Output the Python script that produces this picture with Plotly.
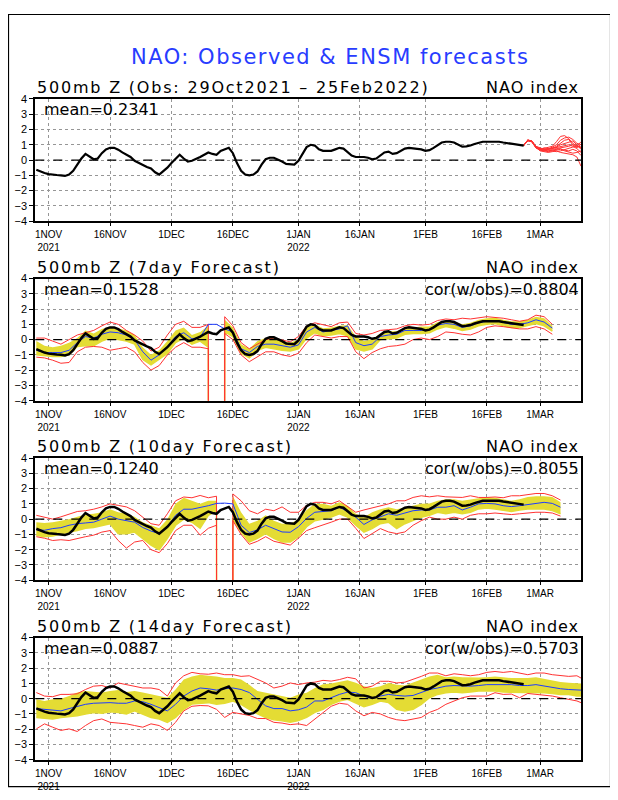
import numpy as np
import pandas as pd
import plotly.graph_objects as go

U = -999.0  # undefined value in the forecast files

START = pd.Timestamp("2021-10-29")

# observed daily NAO index, 29Oct2021 - 25Feb2022
obs_nao = [
    -0.63, -0.75, -0.85, -0.92, -0.97, -0.98, -1.0, -1.04, -0.95, -0.7,
    -0.3, 0.1, 0.4, 0.25, 0.05, 0.1, 0.45, 0.7, 0.8, 0.8,
    0.68, 0.5, 0.35, 0.2, -0.05, -0.2, -0.35, -0.45, -0.55, -0.8,
    -0.95, -0.75, -0.5, -0.2, 0.05, 0.35, 0.1, -0.1, -0.05, 0.05,
    0.2, 0.35, 0.5, 0.4, 0.35, 0.6, 0.7, 0.8, 0.45, -0.2,
    -0.7, -0.95, -1.0, -0.95, -0.75, -0.3, 0.05, 0.15, 0.15, 0.05,
    -0.1, -0.25, -0.3, -0.3, -0.05, 0.45, 0.85, 1.0, 0.95, 0.7,
    0.6, 0.6, 0.6, 0.7, 0.8, 0.75, 0.55, 0.3, 0.2, 0.2,
    0.2, 0.15, 0.05, 0.1, 0.3, 0.5, 0.55, 0.4, 0.45, 0.6,
    0.75, 0.8, 0.75, 0.75, 0.7, 0.6, 0.65, 0.8, 0.95, 1.15,
    1.2, 1.2, 1.15, 1.0, 0.88, 0.9, 0.95, 1.05, 1.15, 1.2,
    1.2, 1.2, 1.2, 1.2, 1.15, 1.1, 1.05, 1.0, 1.0, 0.95,
]

# ensemble members from 25Feb2022 (daily, 15 days)
ens_members = [
    [0.95, 1.3, 1.25, 0.85, 0.7, 0.75, 0.8, 0.9, 1.2, 1.55, 1.6, 1.4, 1.1, 0.9, 0.8],
    [0.95, 1.3, 1.2, 0.8, 0.65, 0.6, 0.7, 0.85, 1.0, 1.3, 1.45, 1.5, 1.35, 1.1, 1.0],
    [0.95, 1.28, 1.22, 0.9, 0.75, 0.7, 0.65, 0.6, 0.55, 0.6, 0.7, 0.8, 0.85, 0.9, 1.2],
    [0.95, 1.32, 1.25, 0.85, 0.6, 0.55, 0.5, 0.55, 0.6, 0.5, 0.45, 0.4, 0.35, 0.2, -0.4],
    [0.95, 1.3, 1.2, 0.8, 0.7, 0.8, 0.75, 0.7, 0.75, 0.8, 0.85, 0.9, 1.0, 0.95, 0.85],
    [0.95, 1.25, 1.2, 0.85, 0.7, 0.65, 0.6, 0.65, 0.7, 0.75, 0.6, 0.5, 0.45, 0.5, 0.6],
    [0.95, 1.3, 1.25, 0.9, 0.8, 0.7, 0.75, 0.8, 0.85, 1.0, 1.1, 1.2, 1.25, 1.0, 0.7],
    [0.95, 1.3, 1.22, 0.8, 0.65, 0.6, 0.55, 0.6, 0.65, 0.7, 0.65, 0.6, 0.7, 0.6, 0.3],
    [0.95, 1.28, 1.2, 0.85, 0.75, 0.7, 0.7, 0.75, 0.8, 0.9, 0.95, 1.0, 0.9, 0.75, 0.5],
    [0.95, 1.3, 1.25, 0.85, 0.7, 0.65, 0.7, 0.75, 0.9, 1.1, 1.3, 1.35, 1.0, 0.8, 1.05],
]

# 7day forecast, every 2nd verifying day from 29Oct2021
f7_mean = [
    -0.7, -0.85, -0.85, -0.85, -0.7, -0.2, 0.2, 0.1, 0.35, 0.5,
    0.45, 0.3, 0.0, -0.8, -1.35, -1.0, -0.45, 0.2, 0.45, 0.05,
    0.15, 1.0, 1.0, 0.7, 0.5, -0.6, -0.85, -0.45, -0.3, -0.3,
    -0.4, -0.5, -0.35, 0.5, 0.8, 0.5, 0.6, 0.7, 0.9, -0.2,
    -0.4, -0.3, 0.2, 0.3, 0.35, 0.6, 0.6, 0.6, 0.65, 0.95,
    1.05, 1.0, 0.8, 0.9, 1.1, 1.2, 1.25, 1.1, 1.0, 1.0,
    1.1, 1.3, 1.15, 0.75,
]
f7_band_hi = [
    -0.1, -0.4, -0.5, -0.4, -0.2, 0.1, 0.6, 0.4, 0.7, 0.85,
    0.75, 0.6, 0.3, -0.5, -1.0, -0.7, -0.1, 0.6, 0.8, 0.3,
    0.5, 0.9, U, 1.3, 0.8, -0.3, -0.6, -0.1, 0.1, 0.1,
    -0.1, -0.2, 0.0, 0.8, 1.0, 0.75, 0.8, 0.9, 0.95, 0.2,
    -0.1, 0.0, 0.4, 0.55, 0.55, 0.8, 0.8, 0.85, 0.85, 1.15,
    1.25, 1.2, 1.0, 1.1, 1.3, 1.4, 1.45, 1.3, 1.2, 1.2,
    1.3, 1.5, 1.4, 0.9,
]
f7_band_lo = [
    -1.0, -1.05, -1.1, -1.1, -1.0, -0.45, -0.4, -0.4, -0.1, 0.1,
    0.0, -0.1, -0.3, -1.3, -1.65, -1.3, -0.9, -0.2, 0.1, -0.3,
    -0.1, -0.5, U, 0.5, 0.2, -0.9, -1.2, -0.7, -0.5, -0.6,
    -0.7, -0.75, -0.6, 0.1, 0.45, 0.25, 0.3, 0.4, 0.25, -0.6,
    -0.75, -0.6, 0.0, 0.05, 0.1, 0.35, 0.4, 0.4, 0.45, 0.7,
    0.85, 0.75, 0.6, 0.7, 0.9, 1.0, 1.05, 0.9, 0.8, 0.8,
    0.9, 1.05, 0.9, 0.55,
]
f7_max = [
    0.1, 0.1, -0.1, -0.3, 0.0, 0.3, 0.45, 0.6, 0.9, 1.15,
    1.0, 0.6, 0.3, -0.1, -0.75, -0.5, 0.3, 1.0, 1.2, 0.8,
    0.8, 1.0, U, 1.5, 0.9, -0.2, -0.6, -0.3, 0.0, 0.1,
    -0.05, -0.15, 0.2, 0.9, 1.1, 0.95, 0.85, 1.1, 1.15, 0.4,
    0.3, 0.4, 0.6, 0.65, 0.7, 0.9, 1.0, 0.95, 1.0, 1.25,
    1.35, 1.3, 1.4, 1.35, 1.45, 1.5, 1.45, 1.4, 1.3, 1.2,
    1.3, 1.6, 1.5, 1.0,
]
f7_min = [
    -1.15, -1.2, -1.35, -1.55, -1.5, -0.8, -0.5, -0.45, -0.5, -0.7,
    -0.6, -0.5, -0.8, -1.5, -2.0, -1.7, -1.0, -0.5, -0.2, -0.5,
    -0.5, -0.6, U, 0.4, 0.0, -1.0, -1.45, -1.1, -0.8, -0.8,
    -1.0, -1.1, -0.9, -0.2, 0.3, 0.2, 0.1, 0.2, 0.2, -0.8,
    -1.25, -0.85, -0.6, -0.45, -0.4, -0.3, 0.0, 0.1, 0.0, 0.2,
    0.5, 0.45, 0.35, 0.3, 0.5, 0.8, 0.9, 0.85, 0.75, 0.7,
    0.7, 0.85, 0.7, 0.35,
]

# 10day forecast
f10_mean = [
    -0.7, -0.73, -0.62, -0.56, -0.4, -0.3, -0.25, -0.2, 0.0, 0.2,
    0.0, -0.1, -0.2, -0.55, -0.78, -0.95, -0.5, 0.25, 0.65, 0.65,
    0.75, 0.88, 1.03, 1.05, 1.0, -0.4, -0.88, -0.7, -0.4, -0.62,
    -0.84, -0.86, -0.5, 0.05, 0.45, 0.5, 0.55, 0.78, 0.5, 0.13,
    -0.35, -0.05, 0.13, 0.35, 0.25, 0.4, 0.55, 0.6, 0.6, 0.78,
    0.78, 0.88, 0.6, 0.78, 1.0, 1.03, 1.0, 0.88, 0.82, 0.88,
    0.95, 1.0, 1.1, 1.03, 0.78,
]
f10_band_hi = [
    -0.2, -0.25, -0.2, -0.1, 0.0, 0.15, 0.3, 0.35, 0.45, 0.65,
    0.45, 0.35, 0.15, -0.2, -0.4, -0.6, 0.0, 1.0, 1.4, 1.2,
    1.0, 1.2, 1.2, U, 1.5, 0.45, -0.3, -0.1, 0.25, -0.1,
    -0.3, -0.3, 0.0, 0.6, 1.0, 1.0, 0.88, 1.1, 0.88, 0.35,
    0.13, 0.45, 0.65, 0.78, 0.65, 0.78, 0.88, 1.0, 1.03, 1.2,
    1.3, 1.3, 1.2, 1.3, 1.4, 1.45, 1.4, 1.3, 1.2, 1.3,
    1.45, 1.5, 1.5, 1.45, 1.1,
]
f10_band_lo = [
    -1.05, -1.15, -1.1, -0.95, -0.85, -0.75, -0.6, -0.55, -0.4, -0.3,
    -0.95, -0.95, -0.85, -1.25, -1.7, -2.0, -1.25, -0.4, 0.0, -0.2,
    -0.6, 0.25, 0.55, U, 0.0, -0.85, -1.5, -1.25, -0.95, -1.25,
    -1.5, -1.5, -1.15, -0.5, -0.1, 0.0, 0.13, 0.35, 0.13, -0.4,
    -0.85, -0.62, -0.3, -0.2, -0.62, -0.3, -0.1, 0.13, 0.25, 0.45,
    0.35, 0.45, 0.35, 0.45, 0.67, 0.73, 0.67, 0.56, 0.5, 0.6,
    0.67, 0.67, 0.67, 0.56, 0.35,
]
f10_max = [
    0.25, 0.15, 0.0, 0.15, 0.35, 0.5, 0.55, 0.65, 0.8, 1.0,
    0.9, 0.8, 0.55, 0.15, -0.3, -0.4, 0.35, 1.2, 1.45, 1.4,
    1.55, 1.4, 1.5, U, 1.65, 1.2, 0.55, 0.35, 0.65, 0.55,
    0.8, 0.45, 0.45, 0.9, 1.1, 1.1, 1.0, 1.2, 0.82, 0.45,
    0.6, 0.73, 0.88, 1.0, 1.2, 1.2, 1.42, 1.53, 1.46, 1.53,
    1.46, 1.46, 1.42, 1.53, 1.42, 1.42, 1.45, 1.4, 1.53, 1.53,
    1.63, 1.68, 1.68, 1.53, 1.25,
]
f10_min = [
    -1.15, -1.25, -1.4, -1.35, -1.4, -1.25, -1.15, -1.05, -0.85, -0.75,
    -1.4, -1.9, -1.5, -1.4, -2.0, -2.2, -1.6, -0.75, -0.4, -0.4,
    -1.05, -0.6, -0.4, U, -0.1, -1.0, -1.65, -1.45, -1.15, -1.45,
    -1.6, -1.7, -1.25, -0.75, -0.56, -0.4, -0.2, 0.0, 0.0, -0.6,
    -1.27, -0.95, -0.62, -0.84, -0.95, -0.84, -0.4, -0.1, 0.13, 0.0,
    0.0, 0.13, 0.0, 0.25, 0.35, 0.35, 0.4, 0.35, 0.3, 0.35,
    0.4, 0.45, 0.45, 0.4, 0.2,
]

# 14day forecast
f14_mean = [
    -0.65, -0.7, -0.73, -0.8, -0.65, -0.52, -0.37, -0.3, -0.26, -0.26,
    -0.3, -0.3, -0.15, -0.2, -0.37, -0.58, -0.8, -0.37, 0.17, 0.5,
    0.7, 0.65, 0.56, 0.65, 0.7, 0.6, 0.4, -0.04, -0.47, -0.65,
    -0.65, -0.8, -0.73, -0.55, -0.15, -0.15, 0.06, 0.28, 0.43, 0.39,
    0.17, 0.0, 0.17, 0.28, 0.21, 0.17, 0.21, 0.39, 0.6, 0.7,
    0.82, 0.86, 0.82, 0.82, 0.86, 0.92, 0.92, 0.92, 0.92, 0.86,
    0.86, 0.92, 0.82, 0.7, 0.65, 0.6, 0.56, 0.56,
]
f14_band_hi = [
    -0.04, -0.15, -0.04, 0.0, 0.17, 0.4, 0.5, 0.43, 0.4, 0.5,
    0.56, 0.43, 0.5, 0.4, 0.28, 0.17, 0.06, 0.6, 1.25, 1.46,
    1.57, 1.5, 1.46, 1.35, 1.35, 1.25, 0.92, 0.5, 0.4, 0.28,
    0.17, 0.06, 0.28, 0.39, 0.7, 0.95, 1.0, 1.1, 1.2, 1.05,
    0.82, 0.7, 0.82, 1.03, 0.92, 0.86, 1.03, 1.25, 1.46, 1.57,
    1.4, 1.45, 1.4, 1.38, 1.38, 1.4, 1.45, 1.4, 1.35, 1.35,
    1.35, 1.4, 1.3, 1.2, 1.1, 1.05, 1.0, 1.0,
]
f14_band_lo = [
    -1.23, -1.3, -1.33, -1.23, -1.16, -1.12, -1.0, -0.9, -0.95, -0.86,
    -0.9, -1.0, -0.8, -1.0, -1.23, -1.33, -1.55, -1.23, -0.7, -0.35,
    -0.3, -0.26, -0.37, -0.3, -0.15, -0.37, -0.7, -1.0, -1.23, -1.38,
    -1.44, -1.55, -1.44, -1.23, -0.9, -0.7, -0.37, -0.15, -0.04, -0.26,
    -0.52, -0.37, -0.15, -0.26, -0.7, -0.8, -0.7, -0.37, 0.06, 0.28,
    0.39, 0.43, 0.39, 0.43, 0.5, 0.5, 0.5, 0.43, 0.43, 0.43,
    0.39, 0.43, 0.39, 0.34, 0.28, 0.28, 0.17, 0.17,
]
f14_max = [
    0.4, 0.17, 0.13, 0.28, 0.28, 0.32, 0.6, 0.82, 0.86, 0.7,
    1.03, 0.92, 0.82, 0.7, 0.7, 0.6, 0.17, 1.03, 1.5, 1.72,
    1.63, 1.6, 1.68, 1.57, 1.57, 1.46, 1.5, 1.25, 1.03, 0.7,
    0.82, 1.03, 0.92, 1.03, 1.08, 1.2, 1.15, 1.25, 1.4, 1.3,
    0.7, 0.82, 1.14, 1.14, 1.03, 1.08, 1.25, 1.46, 1.68, 1.68,
    1.5, 1.63, 1.57, 1.5, 1.57, 1.72, 1.78, 1.72, 1.78, 1.68,
    1.57, 1.68, 1.68, 1.57, 1.5, 1.46, 1.5, 1.35,
]
f14_min = [
    -1.98, -1.65, -1.87, -2.08, -1.98, -2.15, -1.76, -1.44, -1.33, -1.55,
    -1.6, -1.65, -1.76, -1.87, -1.65, -1.76, -2.08, -1.55, -0.8, -0.5,
    -0.45, -0.47, -0.7, -1.23, -0.9, -1.0, -1.1, -1.3, -1.3, -1.55,
    -1.6, -1.7, -1.65, -1.76, -1.33, -0.9, -0.5, -0.3, -0.37, -0.8,
    -1.12, -0.9, -1.0, -1.23, -1.38, -1.44, -1.33, -1.23, -0.9, -0.7,
    -0.37, -0.15, 0.06, 0.17, 0.17, 0.17, 0.39, 0.28, 0.3, 0.06,
    0.34, 0.28, 0.25, 0.17, 0.06, -0.04, -0.15, -0.26,
]

panel_titles = ["500mb Z (Obs: 29Oct2021 – 25Feb2022)", "500mb Z (7day Forecast)",
                "500mb Z (10day Forecast)", "500mb Z (14day Forecast)"]
panel_means = ["mean=0.2341", "mean=0.1528", "mean=0.1240", "mean=0.0887"]
panel_cors = [None, "cor(w/obs)=0.8804", "cor(w/obs)=0.8055", "cor(w/obs)=0.5703"]

tick_dates = ["2021-11-01", "2021-11-16", "2021-12-01", "2021-12-16", "2022-01-01",
              "2022-01-16", "2022-02-01", "2022-02-16", "2022-03-01"]
tick_text = ["1NOV<br>2021", "16NOV", "1DEC", "16DEC", "1JAN<br>2022",
             "16JAN", "1FEB", "16FEB", "1MAR"]

YEL = "rgb(228,220,52)"
RED = "rgb(255,50,50)"
BLUE = "rgb(30,60,255)"
FONT = "DejaVu Sans"

# the page puts the plot 8px in from the top left corner
OFF = 8
W, H = 618 - OFF, 800 - OFF
PX_L, PX_R = 35.3, 581.0
TOPS = [94.3, 276.6, 458.9, 641.2]
PH = 124.0


def px(x):
    return (x - OFF) / W


def py(y):
    return 1 - (y - OFF) / H


def spaced(text, gap):
    return f'<span style="letter-spacing:{gap}px">{text}</span>'


def days(offsets):
    return START + pd.to_timedelta(np.asarray(offsets), unit="D")


obs_dates = days(np.arange(len(obs_nao)))
ens_dates = obs_dates[-1] + pd.to_timedelta(np.arange(len(ens_members[0])), unit="D")

forecasts = [
    (days(np.arange(0, 127, 2)), f7_mean, f7_band_hi, f7_band_lo, f7_max, f7_min),
    (days(np.arange(0, 129, 2)), f10_mean, f10_band_hi, f10_band_lo, f10_max, f10_min),
    (days(np.r_[np.arange(0, 133, 2), 133]), f14_mean, f14_band_hi, f14_band_lo, f14_max, f14_min),
]

fig = go.Figure()


def line(x, y, k, color, width):
    sfx = "" if k == 1 else str(k)
    return go.Scatter(x=x, y=y, mode="lines", line=dict(color=color, width=width),
                      xaxis="x" + sfx, yaxis="y" + sfx, showlegend=False, hoverinfo="skip")


# panel 1: observations and ensemble members
for m in ens_members:
    fig.add_trace(line(ens_dates, m, 1, RED, 1))
fig.add_trace(line(obs_dates, obs_nao, 1, "black", 2.2))

# panels 2-4: forecasts
for k, (fd, mean, hi, lo, mx, mn) in enumerate(forecasts, start=2):
    sfx = str(k)
    hi_a = np.array(hi, float)
    lo_a = np.array(lo, float)
    ok = np.flatnonzero((hi_a > U) & (lo_a > U))
    runs = np.split(ok, np.flatnonzero(np.diff(ok) > 1) + 1)
    for r in runs:
        xs = list(fd[r]) + list(fd[r][::-1])
        ys = list(hi_a[r]) + list(lo_a[r][::-1])
        fig.add_trace(go.Scatter(x=xs, y=ys, mode="lines", fill="toself", fillcolor=YEL,
                                 line=dict(width=0, color=YEL), xaxis="x" + sfx, yaxis="y" + sfx,
                                 showlegend=False, hoverinfo="skip"))
    fig.add_trace(line(fd, lo, k, YEL, 1.5))
    fig.add_trace(line(fd, mx, k, RED, 1))
    fig.add_trace(line(fd, mn, k, RED, 1))
    fig.add_trace(line(fd, mean, k, BLUE, 1))
    fig.add_trace(line(obs_dates, obs_nao, k, "black", 2.5))

annotations = [dict(text=spaced("NAO: Observed & ENSM forecasts", 1.5), xref="paper", yref="paper",
                    x=px(330), y=py(52), xanchor="center", yanchor="middle", showarrow=False,
                    font=dict(family=FONT, size=21, color="rgb(40,60,255)"))]
shapes = [dict(type="rect", xref="paper", yref="paper", x0=px(8.5), x1=px(610.5),
               y0=py(792.5), y1=py(8.5), line=dict(color="black", width=1.2))]

for i in range(4):
    k = i + 1
    sfx = "" if k == 1 else str(k)
    top = TOPS[i]
    fig.layout["xaxis" + sfx] = dict(
        type="date", domain=[px(PX_L), px(PX_R)], anchor="y" + sfx,
        range=["2021-10-28 18:00", "2022-03-11 00:00"],
        tickvals=tick_dates, ticktext=tick_text, tickangle=0,
        showgrid=True, gridcolor="rgb(150,150,150)", griddash="dot", gridwidth=1,
        showline=True, mirror=True, linecolor="black", linewidth=2,
        ticks="outside", ticklen=3, tickcolor="black", zeroline=False,
        tickfont=dict(family="Liberation Sans", size=10, color="black"),
    )
    fig.layout["yaxis" + sfx] = dict(
        domain=[py(top + PH), py(top)], anchor="x" + sfx, range=[-4, 4],
        tickvals=list(range(-4, 5)),
        showgrid=True, gridcolor="rgb(150,150,150)", griddash="dot", gridwidth=1,
        showline=True, mirror=True, linecolor="black", linewidth=2,
        ticks="outside", ticklen=4, tickcolor="black", zeroline=False,
        tickfont=dict(family="Liberation Sans", size=11, color="black"),
    )
    xd, yd = "x" + sfx + " domain", "y" + sfx + " domain"
    shapes.append(dict(type="line", xref=xd, yref="y" + sfx, x0=0, x1=1, y0=0, y1=0,
                       line=dict(color="black", width=1.2, dash="dash"), layer="above"))
    annotations.append(dict(text=spaced(panel_titles[i], 1.8), xref=xd, yref=yd, x=0, y=1,
                            xanchor="left", yanchor="bottom", showarrow=False, yshift=0,
                            font=dict(family=FONT, size=16, color="black")))
    annotations.append(dict(text=spaced("NAO index", 1), xref=xd, yref=yd, x=1, y=1,
                            xanchor="right", yanchor="bottom", showarrow=False, yshift=0,
                            font=dict(family=FONT, size=16, color="black")))
    annotations.append(dict(text=panel_means[i], xref=xd, yref=yd, x=0.012, y=1,
                            xanchor="left", yanchor="top", showarrow=False, yshift=1,
                            font=dict(family=FONT, size=16, color="black")))
    if panel_cors[i]:
        annotations.append(dict(text=panel_cors[i], xref=xd, yref=yd, x=1, y=1,
                                xanchor="right", yanchor="top", showarrow=False, yshift=1,
                                font=dict(family=FONT, size=16, color="black")))

fig.update_layout(
    width=W, height=H, margin=dict(l=0, r=0, t=0, b=0),
    paper_bgcolor="white", plot_bgcolor="white", showlegend=False,
    annotations=annotations, shapes=shapes,
)

fig.write_html("out.html")
